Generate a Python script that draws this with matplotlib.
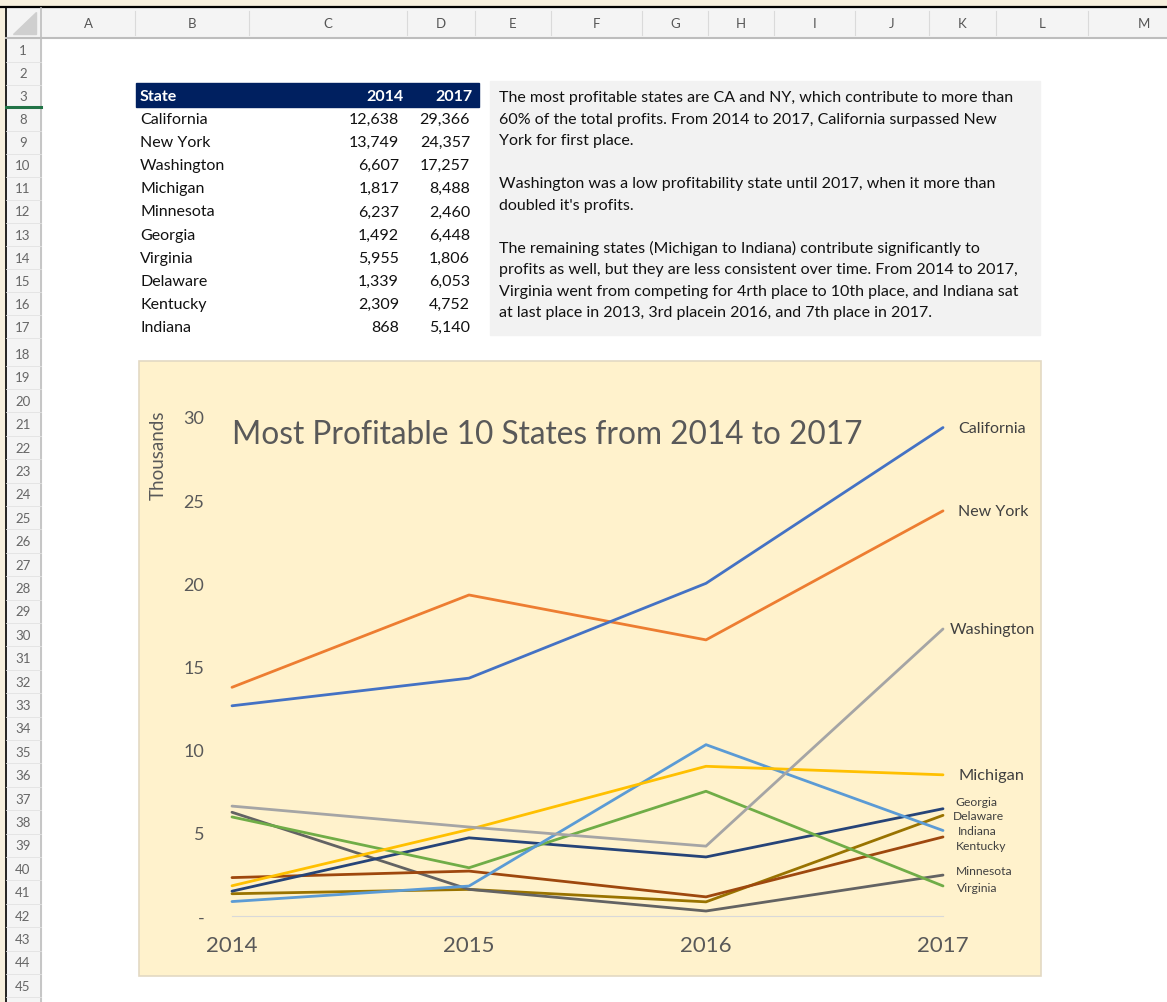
import matplotlib.pyplot as plt
from matplotlib.patches import Rectangle, Polygon

plt.rcParams['font.family'] = ['Lato', 'DejaVu Sans']

### data
states = ['California', 'New York', 'Washington', 'Michigan', 'Minnesota',
          'Georgia', 'Virginia', 'Delaware', 'Kentucky', 'Indiana']
profit_2014 = [12638, 13749, 6607, 1817, 6237, 1492, 5955, 1339, 2309, 868]
profit_2015 = [14300, 19300, 5350, 5200, 1600, 4700, 2900, 1600, 2700, 1800]
profit_2016 = [20000, 16600, 4200, 9000, 300, 3550, 7500, 850, 1150, 10300]
profit_2017 = [29366, 24357, 17257, 8488, 2460, 6448, 1806, 6053, 4752, 5140]
years = [2014, 2015, 2016, 2017]

col_letters = ['A', 'B', 'C', 'D', 'E', 'F', 'G', 'H', 'I', 'J', 'K', 'L', 'M']
row_numbers = [1, 2, 3] + list(range(8, 46))

notes = [
    "The most profitable states are CA and NY, which contribute to more than",
    "60% of the total profits. From 2014 to 2017, California surpassed New",
    "York for first place.",
    "",
    "Washington was a low profitability state until 2017, when it more than",
    "doubled it's profits.",
    "",
    "The remaining states (Michigan to Indiana) contribute significantly to",
    "profits as well, but they are less consistent over time. From 2014 to 2017,",
    "Virginia went from competing for 4rth place to 10th place, and Indiana sat",
    "at last place in 2013, 3rd placein 2016, and 7th place in 2017.",
]

### styles
colors = {
    'California': '#4472C4', 'New York': '#ED7D31', 'Washington': '#A5A5A5',
    'Michigan': '#FFC000', 'Indiana': '#5B9BD5', 'Virginia': '#70AD47',
    'Georgia': '#264478', 'Kentucky': '#9E480E', 'Minnesota': '#636363',
    'Delaware': '#997300',
}
draw_order = ['Delaware', 'Minnesota', 'Kentucky', 'Georgia', 'Virginia', 'Indiana',
              'Michigan', 'Washington', 'New York', 'California']
# (dx, dy) in points, font size
label_style = {
    'California': (11, 0, 11.5), 'New York': (11, 0, 11.5), 'Washington': (5, 0, 11.5),
    'Michigan': (11, 0, 11.8), 'Georgia': (9, 5, 8.7), 'Delaware': (7, 0, 8.7),
    'Indiana': (11, 0, 8.7), 'Kentucky': (9, -6, 8.7), 'Minnesota': (9, 3, 8.7),
    'Virginia': (10, -1, 8.7),
}
FS = 11.5  # sheet text

W, H = 1167, 1003
fig = plt.figure(figsize=(W / 100, H / 100), dpi=100)
bg = fig.add_axes([0, 0, 1, 1])
bg.set_xlim(0, W)
bg.set_ylim(H, 0)
bg.axis('off')

## sheet frame
bg.add_patch(Rectangle((0, 0), W, H, color='white', zorder=0))
bg.add_patch(Rectangle((0, 0), W, 7, color='#F6EFDD', zorder=1))
bg.add_patch(Rectangle((0, 0), 5, H, color='#F6EFDD', zorder=1))
bg.plot([0, W], [8, 8], color='black', lw=1.6, zorder=2)
bg.plot([5.5, 5.5], [8, H], color='black', lw=1.2, zorder=2)

# column header
bg.add_patch(Rectangle((6, 9), W, 29, color='#F4F4F4', zorder=1))
bg.plot([6, W], [38.5, 38.5], color='#BDBDBD', lw=1.5, zorder=2)
col_edges = [41, 135, 249, 407, 475, 551, 642, 708, 774, 855, 929, 996, 1088, 1200]
for i, c in enumerate(col_letters):
    bg.text((col_edges[i] + col_edges[i + 1]) / 2, 24, c, ha='center', va='center',
            fontsize=9.5, color='#555555', zorder=3)
    bg.plot([col_edges[i + 1]] * 2, [12, 36], color='#DADADA', lw=0.8, zorder=2)

# row header
bg.add_patch(Rectangle((6, 9), 35, H, color='#F4F4F4', zorder=1))
bg.plot([41, 41], [9, H], color='#BDBDBD', lw=1.2, zorder=2)
bg.add_patch(Polygon([[36, 13], [36, 35], [13, 35]], color='#CFCFCF', zorder=3))
row_y = [51, 74, 97] + [120 + 23.1 * k for k in range(10)] + [355 + 23.4 * k for k in range(28)]
for n, y in zip(row_numbers, row_y):
    bg.text(23, y, str(n), ha='center', va='center', fontsize=9.5, color='#666666', zorder=3)
    bg.plot([6, 41], [y + 11.5, y + 11.5], color='#E2E2E2', lw=0.6, zorder=2)
bg.plot([6, 41], [107.5, 107.5], color='#217346', lw=2.2, zorder=3)

## table
bg.add_patch(Rectangle((136, 84), 343, 24, color='#002060', zorder=3))
bg.text(140, 96.5, 'State', ha='left', va='center', fontsize=FS, color='white',
        fontweight='bold', zorder=4)
bg.text(404, 96.5, '2014', ha='right', va='center', fontsize=FS, color='white',
        fontweight='bold', zorder=4)
bg.text(472, 96.5, '2017', ha='right', va='center', fontsize=FS, color='white',
        fontweight='bold', zorder=4)
for i, s in enumerate(states):
    y = 120 + 23.1 * i
    bg.text(140, y, s, ha='left', va='center', fontsize=FS, color='#111111', zorder=4)
    bg.text(399, y, f'{profit_2014[i]:,}', ha='right', va='center', fontsize=FS,
            color='#111111', zorder=4)
    bg.text(470, y, f'{profit_2017[i]:,}', ha='right', va='center', fontsize=FS,
            color='#111111', zorder=4)

## notes box
bg.add_patch(Rectangle((490, 82), 550, 254, color='#F2F2F2', zorder=3))
for i, line in enumerate(notes):
    bg.text(499, 98 + 21.5 * i, line, ha='left', va='center', fontsize=FS,
            color='#111111', zorder=4)

## chart area
bg.add_patch(Rectangle((139, 362), 902, 615, facecolor='#FFF2CC', edgecolor='#E3D9C3',
                       lw=1.2, zorder=3))
bg.text(232, 435, 'Most Profitable 10 States from 2014 to 2017', ha='left', va='center',
        fontsize=22.8, color='#595959', zorder=4)
bg.text(158, 455, 'Thousands', ha='center', va='center', rotation=90, fontsize=13.5,
        color='#595959', zorder=4)

ax = fig.add_axes([232 / W, 1 - 917 / H, (943 - 232) / W, (917 - 418) / H])
ax.patch.set_alpha(0)
for s in draw_order:
    i = states.index(s)
    vals = [profit_2014[i] / 1000, profit_2015[i] / 1000,
            profit_2016[i] / 1000, profit_2017[i] / 1000]
    ax.plot(years, vals, color=colors[s], lw=2.0, solid_capstyle='round', clip_on=False)
    dx, dy, fs = label_style[s]
    ax.annotate(s, (2017, vals[-1]), xytext=(dx, dy), textcoords='offset points',
                ha='left', va='center', fontsize=fs, color='#404040', annotation_clip=False)

ax.set_xlim(2014, 2017)
ax.set_ylim(0, 30)
ax.set_xticks(years)
ax.set_xticklabels([str(y) for y in years], fontsize=16, color='#595959')
ax.set_yticks([0, 5, 10, 15, 20, 25, 30])
ax.set_yticklabels(['-', '5', '10', '15', '20', '25', '30'], fontsize=13, color='#595959')
ax.tick_params(axis='x', length=0, pad=14)
ax.tick_params(axis='y', length=0, pad=20)
for side in ['top', 'right', 'left']:
    ax.spines[side].set_visible(False)
ax.spines['bottom'].set_color('#D9D9D9')
ax.spines['bottom'].set_linewidth(0.8)

fig.savefig('out.png', dpi=100)
